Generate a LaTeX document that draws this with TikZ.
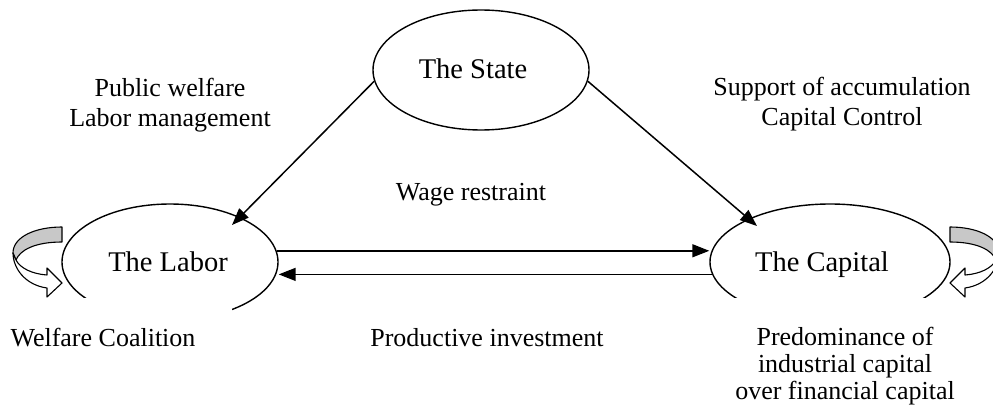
\documentclass[tikz,border=0pt]{standalone}
\usepackage{fontspec}
\setmainfont{Liberation Serif}
\usetikzlibrary{calc,shapes.geometric,arrows.meta}
\definecolor{backface}{RGB}{200,200,200}
\begin{document}
\begin{tikzpicture}[x=1pt,y=1pt,
  actor/.style={ellipse,draw,line width=1.4pt,inner sep=0pt},
  actorlabel/.style={anchor=base,inner sep=0pt,font=\fontsize{28.5}{30}\selectfont},
  remark/.style={anchor=base,inner sep=0pt,font=\fontsize{26}{30}\selectfont},
  linkarrow/.style={line width=1.5pt,-{Triangle[length=17pt,width=13pt]}},
  loopback/.style={draw=black,line width=1.1pt,line join=round},
  uturnarrow/.pic={
    % back face of the curved arrow (upper band)
    \draw[loopback,fill=backface] (62,178) .. controls (35,178) and (13,168) .. (13,152)
      -- (16,145) .. controls (20,155) and (35,163) .. (62,163) -- cycle;
    % front face with the arrow head
    \draw[loopback,fill=white] (13,152) .. controls (13,137) and (25,120) .. (47,117)
      -- (47,108) -- (62,122) -- (47,137) -- (47,130)
      .. controls (32,131) and (20,137) .. (16,145) -- cycle;
  }]
\useasboundingbox (0,0) rectangle (993,405);

% the three actors
\node[actor,minimum width=216pt,minimum height=120pt] (state) at (481,335) {};
\node[actor,minimum width=216pt,minimum height=116pt] (labor) at (170,143) {};
\node[actor,minimum width=240pt,minimum height=116pt] (capital) at (830,143) {};

% open lower rims of the two lower ellipses
\fill[white] (70,80) rectangle (232,107);
\fill[white] (720,80) rectangle (940,107);

% self-reinforcing loops
\pic at (0,0) {uturnarrow};
\pic[xscale=-1] at (1012,0) {uturnarrow};

% relations
\draw[linkarrow] (state.186) -- ($(labor.center)+(62,37)$);
\draw[linkarrow] (state.-6) -- ($(capital.center)+(-73,36)$);
\draw[linkarrow] (labor.6) -- (labor.6 -| capital.west);
\draw[linkarrow] (capital.186) -- (capital.186 -| labor.east);

% actor names
\node[actorlabel] (tstate) at (473,326) {The State};
\node[actorlabel] (tlabor) at (168,134) {The Labor};
\node[actorlabel] (tcapital) at (822,134) {The Capital};

% annotations
\node[remark] (pw) at (170,308) {Public welfare};
\node[remark] (lm) at (170,278) {Labor management};
\node[remark] (sa) at (842,309) {Support of accumulation};
\node[remark] (cc) at (842,279) {Capital Control};
\node[remark] (wr) at (471,205) {Wage restraint};
\node[remark] (wc) at (103,59) {Welfare Coalition};
\node[remark] (pi) at (487,59) {Productive investment};
\node[remark] (pd1) at (845,60) {Predominance of};
\node[remark] (pd2) at (845,33) {industrial capital};
\node[remark] (pd3) at (845,6) {over financial capital};
\end{tikzpicture}
\end{document}
